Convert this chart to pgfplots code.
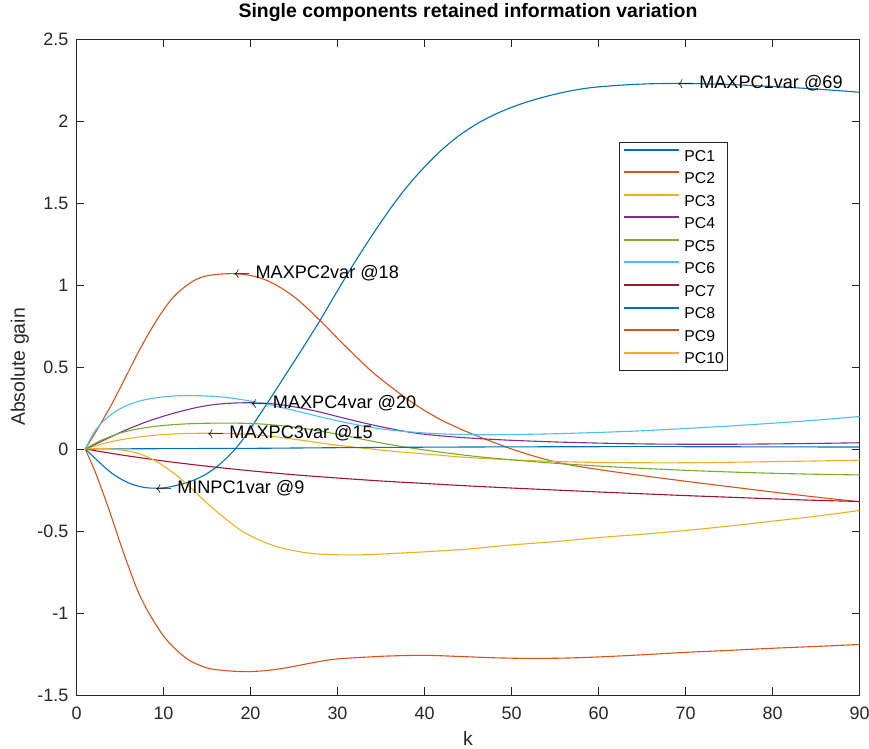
\documentclass[border=0pt]{standalone}
\usepackage{fontspec}
\setmainfont{Liberation Sans}
\usepackage{pgfplots}
\pgfplotsset{compat=1.18}

\definecolor{mc1}{rgb}{0,0.447,0.741}
\definecolor{mc2}{rgb}{0.85,0.325,0.098}
\definecolor{mc3}{rgb}{0.929,0.694,0.125}
\definecolor{mc4}{rgb}{0.494,0.184,0.556}
\definecolor{mc5}{rgb}{0.466,0.674,0.188}
\definecolor{mc6}{rgb}{0.301,0.745,0.933}
\definecolor{mc7}{rgb}{0.635,0.078,0.184}
\definecolor{axgray}{rgb}{0.15,0.15,0.15}

\newcommand\tickfont{\fontsize{18}{21}\selectfont}
\newcommand\labfont{\fontsize{19.5}{23}\selectfont}
\newcommand\annfont{\fontsize{18.2}{21}\selectfont}

\begin{document}
\begin{tikzpicture}
\path[use as bounding box] (0,0) rectangle (869bp,749bp);
\begin{axis}[
  at={(76.5bp,54bp)}, anchor=south west,
  scale only axis, width=783bp, height=656bp,
  xmin=0, xmax=90, ymin=-1.5, ymax=2.5,
  xtick={0,10,20,30,40,50,60,70,80,90},
  xticklabels={0,10,20,30,40,50,60,70,80,90},
  ytick={-1.5,-1,-0.5,0,0.5,1,1.5,2,2.5},
  yticklabels={-1.5,-1,-0.5,0,0.5,1,1.5,2,2.5},
  tick align=inside, major tick length=7.8bp,
  axis line style={draw=axgray, line width=0.8bp},
  every tick/.style={draw=axgray, line width=0.8bp},
  tick label style={font=\tickfont, text=axgray, inner sep=0pt},
  xticklabel style={anchor=center, yshift=-18bp},
  yticklabel style={anchor=east, xshift=-8bp},
  title={Single components retained information variation},
  title style={font=\labfont\bfseries, at={(axis description cs:0.5,1.0305)}, anchor=center, inner sep=0pt},
  xlabel={k},
  xlabel style={font=\labfont, text=axgray, at={(axis description cs:0.5,-0.066)}, anchor=center, inner sep=0pt},
  ylabel={Absolute gain},
  ylabel style={font=\labfont, text=axgray, at={(axis description cs:-0.0722,0.5)}, anchor=center, inner sep=0pt},
  legend style={at={(axis description cs:0.693,0.843)}, anchor=north west,
    draw=axgray, line width=0.6bp, fill=white,
    font=\fontsize{15.8}{18}\selectfont,
    inner xsep=4bp, inner ysep=6.4bp, row sep=10.2bp,
    nodes={inner sep=0pt, text height=11.5bp, text depth=0pt},
    /tikz/every odd column/.append style={column sep=5bp}},
  legend cell align=left,
  legend image code/.code={\draw[#1, line width=2bp] plot coordinates {(0bp,5.6bp) (27bp,5.6bp) (54bp,5.6bp)};},
  clip=true,
]
% PC1
\addplot[mc1, line width=1.1bp, smooth] coordinates {
(1,0) (2,-0.05) (3,-0.1) (4,-0.145) (5,-0.18) (6,-0.207) (7,-0.225) (8,-0.236)
(9,-0.239) (10,-0.237) (11,-0.228) (12,-0.215) (13,-0.2) (14,-0.178) (15,-0.15)
(16,-0.113) (17,-0.068) (18,-0.015) (19,0.05) (20,0.125) (21,0.205) (22,0.285)
(24,0.45) (26,0.615) (28,0.785) (30,0.965) (32,1.14) (34,1.305) (36,1.46)
(38,1.6) (40,1.72) (42,1.825) (44,1.912) (46,1.982) (48,2.038) (50,2.083)
(52,2.12) (54,2.15) (56,2.175) (58,2.195) (60,2.208) (63,2.22) (66,2.227)
(69,2.229) (72,2.227) (76,2.22) (80,2.21) (85,2.195) (90,2.175)};
% PC2
\addplot[mc2, line width=1.1bp, smooth] coordinates {
(1,0) (2,0.085) (3,0.175) (4,0.268) (5,0.37) (6,0.475) (7,0.58) (8,0.677) (9,0.767)
(10,0.848) (11,0.918) (12,0.97) (13,1.01) (14,1.04) (15,1.056) (16,1.064)
(17,1.068) (18,1.069) (19,1.066) (20,1.058) (21,1.045) (22,1.025) (23,0.998)
(24,0.966) (25,0.928) (26,0.884) (27,0.835) (28,0.783) (29,0.73) (30,0.675)
(32,0.57) (34,0.47) (36,0.385) (38,0.305) (40,0.235) (42,0.175) (44,0.125)
(46,0.08) (48,0.04) (50,0.0) (53,-0.05) (56,-0.09) (60,-0.125) (64,-0.155)
(68,-0.183) (72,-0.21) (76,-0.236) (80,-0.262) (85,-0.293) (90,-0.322)};
% PC3
\addplot[mc3, line width=1.1bp, smooth] coordinates {
(1,0) (3,0.032) (5,0.055) (7,0.072) (9,0.084) (11,0.091) (13,0.095) (15,0.096)
(17,0.095) (19,0.091) (21,0.084) (23,0.074) (25,0.06) (27,0.045) (29,0.03)
(31,0.017) (33,0.005) (36,-0.012) (40,-0.03) (45,-0.052) (50,-0.066)
(55,-0.076) (60,-0.082) (65,-0.084) (70,-0.084) (75,-0.081) (80,-0.077)
(85,-0.073) (90,-0.068)};
% PC4
\addplot[mc4, line width=1.1bp, smooth] coordinates {
(1,0) (2,0.025) (3,0.05) (4,0.075) (5,0.1) (6,0.123) (8,0.165) (10,0.2)
(12,0.23) (14,0.255) (16,0.272) (18,0.28) (20,0.282) (22,0.278) (24,0.266)
(26,0.248) (28,0.225) (30,0.198) (32,0.172) (34,0.147) (36,0.125) (38,0.105)
(40,0.09) (43,0.075) (46,0.064) (50,0.053) (55,0.043) (60,0.036) (65,0.031)
(70,0.029) (75,0.029) (80,0.031) (85,0.034) (90,0.038)};
% PC5
\addplot[mc5, line width=1.1bp, smooth] coordinates {
(1,0) (2,0.03) (3,0.057) (5,0.097) (7,0.122) (9,0.138) (11,0.148) (13,0.154)
(15,0.157) (17,0.158) (19,0.157) (21,0.153) (23,0.145) (25,0.133) (27,0.118)
(29,0.1) (31,0.08) (33,0.058) (35,0.037) (37,0.018) (40,-0.006) (43,-0.027)
(46,-0.046) (50,-0.066) (55,-0.087) (60,-0.104) (65,-0.118) (70,-0.13)
(75,-0.14) (80,-0.148) (85,-0.154) (90,-0.158)};
% PC6
\addplot[mc6, line width=1.1bp, smooth] coordinates {
(1,0) (2,0.1) (3,0.165) (4,0.21) (5,0.245) (6,0.27) (7,0.288) (8,0.302)
(10,0.318) (12,0.325) (14,0.325) (16,0.32) (18,0.309) (20,0.292) (22,0.272)
(24,0.248) (26,0.222) (28,0.196) (30,0.172) (32,0.15) (34,0.131) (36,0.116)
(38,0.106) (40,0.098) (43,0.09) (46,0.087) (50,0.088) (55,0.093) (60,0.101)
(65,0.111) (70,0.125) (75,0.14) (80,0.157) (85,0.176) (90,0.198)};
% PC7
\addplot[mc7, line width=1.1bp, smooth] coordinates {
(1,0) (5,-0.035) (10,-0.073) (15,-0.105) (20,-0.133) (25,-0.157) (30,-0.177)
(35,-0.195) (40,-0.21) (45,-0.225) (50,-0.238) (55,-0.25) (60,-0.262)
(65,-0.273) (70,-0.284) (75,-0.294) (80,-0.304) (85,-0.313) (90,-0.32)};
% PC8
\addplot[mc1, line width=1.1bp, smooth] coordinates {
(1,0) (10,0.002) (20,0.004) (30,0.008) (40,0.011) (50,0.013) (60,0.014)
(70,0.014) (80,0.013) (90,0.012)};
% PC9
\addplot[mc2, line width=1.1bp, smooth] coordinates {
(1,0) (2,-0.12) (3,-0.26) (4,-0.41) (5,-0.57) (6,-0.72) (7,-0.86) (8,-0.97)
(9,-1.06) (10,-1.14) (11,-1.2) (12,-1.25) (13,-1.29) (14,-1.315) (15,-1.335)
(16,-1.345) (18,-1.355) (20,-1.357) (22,-1.35) (24,-1.335) (26,-1.315)
(28,-1.295) (30,-1.28) (33,-1.27) (36,-1.262) (40,-1.258) (44,-1.265)
(48,-1.273) (52,-1.277) (56,-1.275) (60,-1.268) (65,-1.255) (70,-1.24)
(75,-1.228) (80,-1.215) (85,-1.204) (90,-1.192)};
% PC10
\addplot[mc3, line width=1.1bp, smooth] coordinates {
(1,0) (3,0.003) (5,-0.005) (7,-0.025) (9,-0.07) (11,-0.14) (13,-0.23)
(15,-0.33) (17,-0.42) (19,-0.5) (21,-0.555) (23,-0.595) (25,-0.62)
(27,-0.637) (30,-0.645) (33,-0.645) (36,-0.638) (40,-0.627) (45,-0.61)
(50,-0.585) (55,-0.565) (60,-0.54) (65,-0.52) (70,-0.497) (75,-0.47)
(80,-0.44) (85,-0.41) (90,-0.375)};
\legend{PC1,PC2,PC3,PC4,PC5,PC6,PC7,PC8,PC9,PC10}

% extreme-value annotations
\node[anchor=west, inner sep=0pt, font=\annfont] at (axis cs:69,2.229) {$\leftarrow$ MAXPC1var @69};
\node[anchor=west, inner sep=0pt, font=\annfont] at (axis cs:18,1.069) {$\leftarrow$ MAXPC2var @18};
\node[anchor=west, inner sep=0pt, font=\annfont] at (axis cs:20,0.282) {$\leftarrow$ MAXPC4var @20};
\node[anchor=west, inner sep=0pt, font=\annfont] at (axis cs:15,0.096) {$\leftarrow$ MAXPC3var @15};
\node[anchor=west, inner sep=0pt, font=\annfont] at (axis cs:9,-0.239) {$\leftarrow$ MINPC1var @9};
\end{axis}
\end{tikzpicture}
\end{document}
